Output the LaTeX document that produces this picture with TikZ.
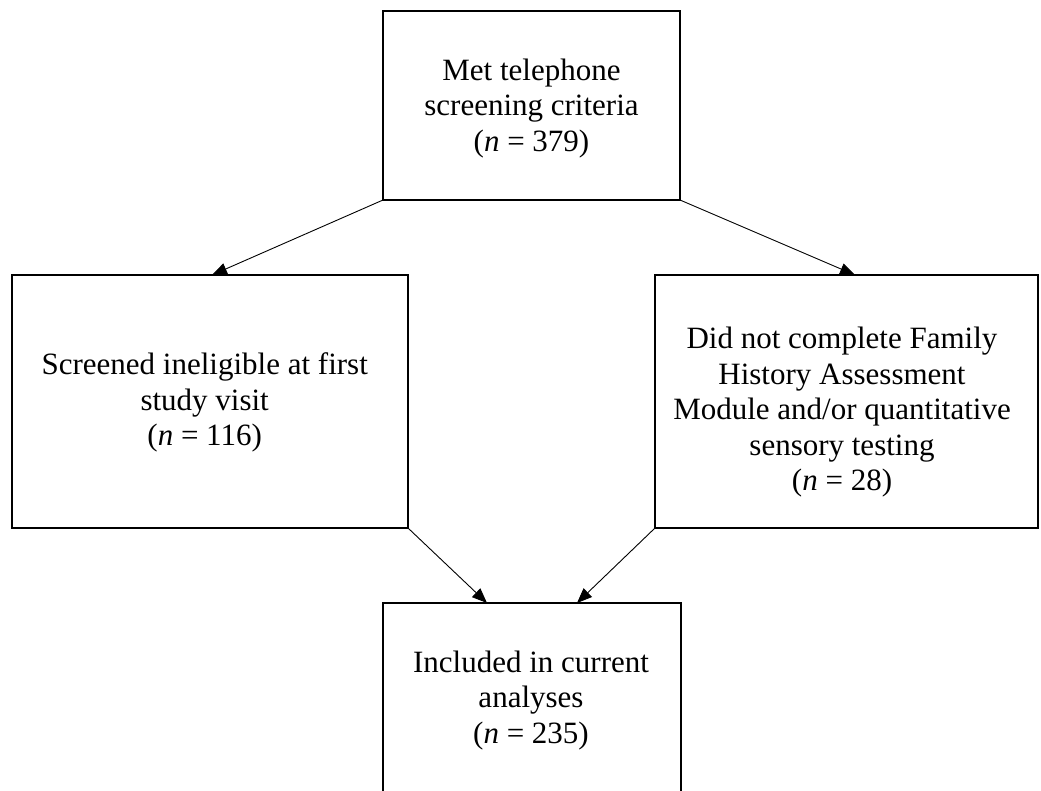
\documentclass[tikz,border=0pt]{standalone}
\usepackage{fontspec}
\setmainfont{Liberation Serif}
\usetikzlibrary{arrows.meta,calc}
\begin{document}
\begin{tikzpicture}[x=1pt,y=-1pt,
  box/.style={draw,line width=1.6pt,outer sep=0pt,inner sep=0pt,anchor=north west},
  lbl/.style={align=center,font=\fontsize{31}{35.5}\selectfont,inner sep=0pt},
  arr/.style={line width=0.9pt,-{Triangle[length=15pt,width=12pt]}}]
\useasboundingbox (0,0) rectangle (1041,790);
\clip (0,0) rectangle (1041,790);
\node[box,minimum width=297pt,minimum height=189pt] (top) at (383,11) {};
\node[box,minimum width=396pt,minimum height=253pt] (left) at (12,275) {};
\node[box,minimum width=383pt,minimum height=253pt] (right) at (655,275) {};
\node[box,minimum width=298pt,minimum height=220pt] (bottom) at (383,603) {};
\node[lbl] (toptext) at (531.5,108.3) {Met telephone\\screening criteria\\(\textit{n} = 379)};
\node[lbl] (lefttext) at (204.7,402.6) {Screened ineligible at first\\study visit\\(\textit{n} = 116)};
\node[lbl] (righttext) at (842,412.2) {Did not complete Family\\History Assessment\\Module and/or quantitative\\sensory testing\\(\textit{n} = 28)};
\node[lbl] (bottomtext) at (531,700.3) {Included in current\\analyses\\(\textit{n} = 235)};
\draw[arr] (top.south west) -- ([xshift=200pt]left.north west);
\draw[arr] (top.south east) -- ([xshift=200pt]right.north west);
\draw[arr] (left.south east) -- ([xshift=104pt]bottom.north west);
\draw[arr] (right.south west) -- ([xshift=194pt]bottom.north west);
\end{tikzpicture}
\end{document}
